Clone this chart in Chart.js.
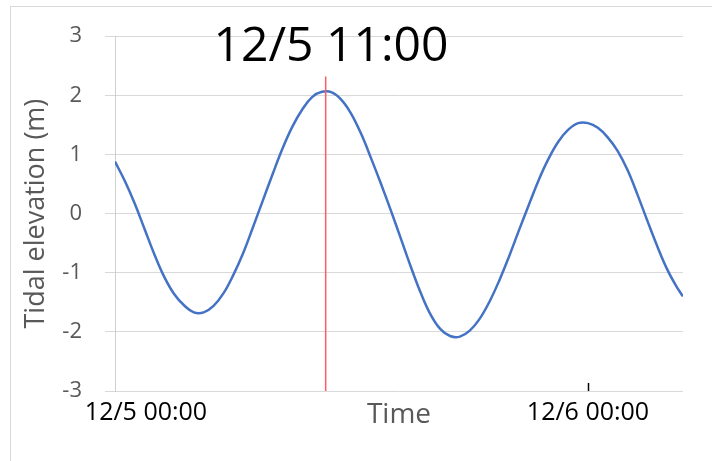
<!DOCTYPE html>
<html>
<head>
<meta charset="utf-8">
<script src="https://cdn.jsdelivr.net/npm/chart.js@4/dist/chart.umd.min.js"></script>
<style>
  html, body { margin: 0; padding: 0; background: #fff; overflow: hidden; }
  #wrap { position: relative; width: 712px; height: 461px; }
  #frame { position: absolute; left: 10px; top: 6px; width: 720px; height: 470px;
           border-left: 1px solid #d9d9d9; border-top: 1px solid #d9d9d9; box-sizing: border-box; }
  canvas { position: absolute; left: 0; top: 0; }
</style>
</head>
<body>
<div id="wrap">
  <div id="frame"></div>
  <canvas id="c" width="712" height="461"></canvas>
</div>
<script>
// ---- data (hours since 12/5 00:00, tidal elevation in m) ----
const hours = [0, 0.5, 1, 1.5, 2, 2.5, 3, 3.5, 4, 4.5, 5, 5.5, 6, 6.5, 7, 7.5, 8, 8.5, 9, 9.5,
               10, 10.5, 11, 11.5, 12, 12.5, 13, 13.5, 14, 14.5, 15, 15.5, 16, 16.5, 17, 17.5,
               18, 18.5, 19, 19.5, 20, 20.5, 21, 21.5, 22, 22.5, 23, 23.5, 24, 24.5, 25, 25.5,
               26, 26.5, 27, 27.5, 28, 28.5, 28.82];
const elevation = [0.88, 0.55, 0.17, -0.26, -0.69, -1.07, -1.36, -1.55, -1.67, -1.67, -1.56, -1.35,
                   -1.04, -0.67, -0.23, 0.22, 0.67, 1.10, 1.47, 1.76, 1.97, 2.06, 2.05, 1.92,
                   1.68, 1.34, 0.93, 0.50, 0.05, -0.42, -0.89, -1.33, -1.70, -1.95, -2.07, -2.08,
                   -1.98, -1.78, -1.49, -1.13, -0.72, -0.28, 0.15, 0.57, 0.93, 1.22, 1.42, 1.53,
                   1.53, 1.45, 1.29, 1.06, 0.74, 0.33, -0.11, -0.54, -0.93, -1.24, -1.40];
const markerHour = 10.69;
const markerRange = [-3, 2.32];
const tickHours = [0, 24];
const tickLabels = ['12/5 00:00', '12/6 00:00'];
const yTicks = [-3, -2, -1, 0, 1, 2, 3];
const titleText = '12/5 11:00';

const FONT = '"Open Sans", "Segoe UI", sans-serif';

const seriesPoints = hours.map((h, i) => ({ x: h, y: elevation[i] }));
const markerPoints = markerRange.map(v => ({ x: markerHour, y: v }));

const overlayTitle = {
  id: 'overlayTitle',
  beforeDraw(chart) {
    const xs = chart.scales.x;
    const items = xs.getLabelItems(chart.chartArea);
    if (items && items[0] && !items[0]._shifted) {
      items[0].options.translation[0] += 31;
      items[0]._shifted = true;
    }
  },
  afterDraw(chart) {
    const ctx = chart.ctx;
    ctx.save();
    ctx.font = '48px ' + FONT;
    ctx.fillStyle = '#000';
    ctx.textAlign = 'center';
    ctx.textBaseline = 'middle';
    ctx.fillText(titleText, 331, 47);
    ctx.restore();
  }
};

new Chart(document.getElementById('c'), {
  type: 'line',
  data: {
    datasets: [
      { data: markerPoints, borderColor: '#FF5A66', borderWidth: 1.5, pointRadius: 0, order: 0 },
      { data: seriesPoints, borderColor: '#4472C4', borderWidth: 2.5, pointRadius: 0,
        tension: 0.4, order: 1 }
    ]
  },
  options: {
    responsive: false,
    animation: false,
    events: [],
    layout: { padding: { top: 30, right: 29, left: 0, bottom: 0 } },
    plugins: { legend: { display: false }, tooltip: { enabled: false }, title: { display: false } },
    scales: {
      x: {
        type: 'linear', min: 0, max: 28.82,
        afterBuildTicks: s => { s.ticks = tickHours.map(v => ({ value: v })); },
        afterFit: s => { s.height = 70; },
        ticks: {
          callback: v => tickLabels[tickHours.indexOf(v)],
          color: '#000', font: { family: FONT, size: 25 }, padding: 15,
          maxRotation: 0, autoSkip: false
        },
        grid: {
          display: true, drawOnChartArea: false, drawTicks: true, tickLength: -8,
          tickWidth: 1.5,
          tickColor: c => (c.tick && c.tick.value === 24) ? '#000' : 'rgba(0,0,0,0)',
          color: 'rgba(0,0,0,0)'
        },
        border: { display: false },
        title: { display: true, text: 'Time', color: '#595959',
                 font: { family: FONT, size: 28 }, padding: { top: 0, bottom: 29 } }
      },
      y: {
        min: -3, max: 3,
        afterBuildTicks: s => { s.ticks = yTicks.map(v => ({ value: v })); },
        afterFit: s => { s.width = 115; },
        ticks: { color: '#595959', font: { family: FONT, size: 22 }, padding: 23 },
        grid: { color: '#d9d9d9', lineWidth: 1, tickLength: 10, tickColor: '#d9d9d9' },
        border: { display: true, color: '#d0d0d0', width: 1 },
        title: { display: true, text: 'Tidal elevation (m)', color: '#595959',
                 font: { family: FONT, size: 27 }, padding: { top: 20, bottom: 0 } }
      }
    }
  },
  plugins: [overlayTitle]
});
</script>
</body>
</html>
